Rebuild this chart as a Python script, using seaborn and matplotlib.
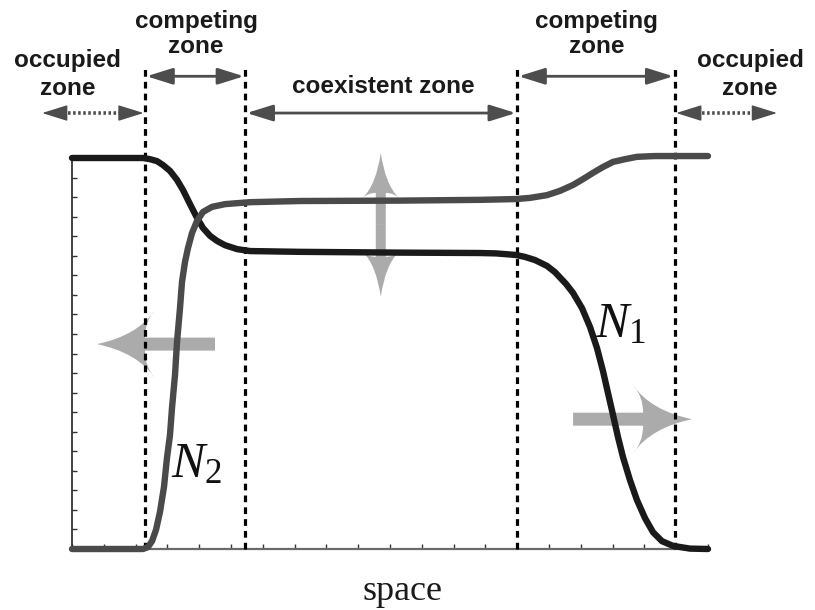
import numpy as np
import pandas as pd
import matplotlib
matplotlib.use("Agg")
import matplotlib.pyplot as plt
import matplotlib.transforms as mtransforms
from matplotlib.path import Path
from matplotlib.patches import PathPatch
import seaborn as sns

# Density profiles along space (0..20) for the two species
n1_space = [0.0, 2.233, 2.453, 2.673, 2.862, 3.082, 3.302, 3.491, 3.711, 3.931,
            4.119, 4.340, 4.560, 4.811, 5.189, 5.597, 7.170, 10.314, 12.830, 13.333,
            13.962, 14.245, 14.560, 14.937, 15.189, 15.535, 15.755, 16.038, 16.289, 16.509,
            16.698, 16.855, 17.013, 17.170, 17.327, 17.547, 17.767, 18.019, 18.270, 18.553,
            18.899, 19.434, 20.0]
n1_density = [1.000, 1.000, 0.997, 0.992, 0.982, 0.967, 0.944, 0.918, 0.882, 0.847,
              0.821, 0.801, 0.788, 0.777, 0.767, 0.762, 0.760, 0.758, 0.757, 0.756,
              0.752, 0.747, 0.739, 0.724, 0.708, 0.678, 0.655, 0.616, 0.568, 0.514,
              0.455, 0.399, 0.343, 0.286, 0.235, 0.176, 0.125, 0.079, 0.043, 0.020,
              0.008, 0.001, 0.0]

n2_space = [0.0, 2.233, 2.390, 2.516, 2.642, 2.767, 2.893, 2.987, 3.082, 3.145,
            3.239, 3.302, 3.396, 3.459, 3.553, 3.648, 3.774, 3.931, 4.119, 4.403,
            4.811, 5.597, 7.170, 10.314, 12.830, 13.962, 14.403, 14.937, 15.346, 15.755,
            16.069, 16.384, 16.698, 17.013, 17.390, 17.767, 18.333, 18.899, 19.434, 20.0]
n2_density = [0.0, 0.0, 0.005, 0.020, 0.049, 0.095, 0.159, 0.233, 0.292, 0.361,
              0.445, 0.529, 0.616, 0.683, 0.734, 0.770, 0.808, 0.839, 0.862, 0.875,
              0.882, 0.887, 0.890, 0.891, 0.893, 0.895, 0.898, 0.905, 0.916, 0.931,
              0.946, 0.962, 0.977, 0.990, 0.997, 1.003, 1.005, 1.005, 1.005, 1.005]

# Zone boundaries along space and zone names
zone_edges = [2.3, 5.45, 14.0, 18.95]
zone_names = ["occupied\nzone", "competing\nzone", "coexistent zone",
              "competing\nzone", "occupied\nzone"]

sns.set_style("ticks")
plt.rcParams["font.family"] = ["Liberation Sans", "DejaVu Sans"]
plt.rcParams["mathtext.fontset"] = "custom"
plt.rcParams["mathtext.it"] = "Liberation Serif:italic"
plt.rcParams["mathtext.rm"] = "Liberation Serif"

W, H = 815, 610
fig = plt.figure(figsize=(W / 100, H / 100), dpi=100)
ax = fig.add_axes([72 / W, 61 / H, 636 / W, 391 / H])

df = pd.concat([
    pd.DataFrame({"space": n1_space, "density": n1_density, "species": "N1"}),
    pd.DataFrame({"space": n2_space, "density": n2_density, "species": "N2"}),
], ignore_index=True)

sns.lineplot(data=df, x="space", y="density", hue="species",
             palette={"N1": "#1a1a1a", "N2": "#4a4a4a"}, linewidth=4.6,
             sort=False, estimator=None, legend=False, ax=ax, zorder=5)
for ln in ax.lines:
    ln.set_clip_on(False)
    ln.set_solid_capstyle("round")
    ln.set_solid_joinstyle("round")

ax.set_xlim(0, 20)
ax.set_ylim(0, 1)
ax.set_xticks(np.arange(0, 21, 1))
ax.set_yticks(np.linspace(0, 1, 21))
ax.tick_params(direction="in", length=3.5, width=1.0, colors="#333333",
               labelbottom=False, labelleft=False)
sns.despine(ax=ax)
ax.spines["left"].set_color("#222222")
ax.spines["left"].set_linewidth(1.2)
ax.spines["bottom"].set_color("#6a6a6a")
ax.spines["bottom"].set_linewidth(1.6)

ax.set_ylabel("")
ax.set_xlabel("space", family="Liberation Serif", fontsize=26, color="#1a1a1a",
              va="baseline")
ax.xaxis.set_label_coords((402 - 72) / 636, (549 - 600) / 391)

# Zone boundaries reaching up into the header
top = 1.238
for e in zone_edges:
    ax.plot([e, e], [0, top], color="black", lw=2.3, ls=(0, (2.1, 1.6)),
            clip_on=False, zorder=4)

arrow_col = "#4d4d4d"
head = "-|>,head_length=1.6,head_width=0.5"
dhead = "<|-|>,head_length=1.6,head_width=0.5"


def solid_span(x0, x1, y):
    ax.annotate("", xy=(x1, y), xytext=(x0, y), annotation_clip=False,
                arrowprops=dict(arrowstyle=dhead, color=arrow_col, lw=2.0,
                                shrinkA=1, shrinkB=1, mutation_scale=10))


def dotted_span(x0, x1, y):
    hl = 0.66
    ax.plot([x0 + hl, x1 - hl], [y, y], color=arrow_col, lw=2.6,
            ls=(0, (0.7, 0.7)), clip_on=False, zorder=4)
    for tip, back in ((x0, x0 + hl), (x1, x1 - hl)):
        ax.annotate("", xy=(tip, y), xytext=(back, y), annotation_clip=False,
                    arrowprops=dict(arrowstyle=head, color=arrow_col, lw=1.0,
                                    shrinkA=0, shrinkB=0, mutation_scale=10))


y_low, y_high = 1.115, 1.209
dotted_span(-0.94, zone_edges[0] - 0.05, y_low)
solid_span(zone_edges[0], zone_edges[1], y_high)
solid_span(zone_edges[1], zone_edges[2], y_low)
solid_span(zone_edges[2], zone_edges[3], y_high)
dotted_span(zone_edges[3] + 0.05, 22.17, y_low)

txt = dict(ha="center", va="baseline", fontsize=17.5, fontweight="bold",
           color="#1a1a1a")
ax.text(-0.13, 1.161, zone_names[0], linespacing=1.29, **txt)
ax.text(3.9, 1.269, zone_names[1], linespacing=1.12, **txt)
ax.text(9.8, 1.166, zone_names[2], **txt)
ax.text(16.5, 1.269, zone_names[3], linespacing=1.12, **txt)
ax.text(21.32, 1.161, zone_names[4], linespacing=1.29, **txt)

# Species labels
ax.text(16.45, 0.542, r"$N_1$", fontsize=36, color="#111111", ha="left", va="baseline")
ax.text(3.12, 0.184, r"$N_2$", fontsize=36, color="#111111", ha="left", va="baseline")


def fat_arrow(tip, angle, length, head_len, head_half, shaft_half, sweep):
    """Block arrow with a concave head, sized in pixels, tip given in data units."""
    L, Hh, w, s, j = length, head_len, head_half, shaft_half, sweep
    verts = [
        (-L, -s),
        (-(Hh - j), -s),
        (-(Hh - j), -(s + (w - s) * 0.6)), (-Hh, -w),
        (-0.7 * Hh, -0.25 * w), (0, 0),
        (-0.7 * Hh, 0.25 * w), (-Hh, w),
        (-(Hh - j), s + (w - s) * 0.6), (-(Hh - j), s),
        (-L, s),
        (-L, -s),
    ]
    codes = [Path.MOVETO, Path.LINETO,
             Path.CURVE3, Path.CURVE3,
             Path.CURVE3, Path.CURVE3,
             Path.CURVE3, Path.CURVE3,
             Path.CURVE3, Path.CURVE3,
             Path.LINETO, Path.CLOSEPOLY]
    tx, ty = ax.transData.transform(tip)
    tr = mtransforms.Affine2D().rotate_deg(angle).translate(tx, ty)
    patch = PathPatch(Path(verts, codes), facecolor="#ababab", edgecolor="none",
                      transform=tr, clip_on=False, zorder=2)
    ax.add_patch(patch)


fat_arrow((0.786, 0.524), 180, 118, 58, 34, 6.5, 10)
fat_arrow((19.50, 0.332), 0, 119, 59, 34, 6.5, 10)
fat_arrow((9.71, 1.013), 90, 72, 45, 18, 5, 5)
fat_arrow((9.71, 0.645), -90, 72, 45, 18, 5, 5)

fig.savefig("out.png", dpi=100)
